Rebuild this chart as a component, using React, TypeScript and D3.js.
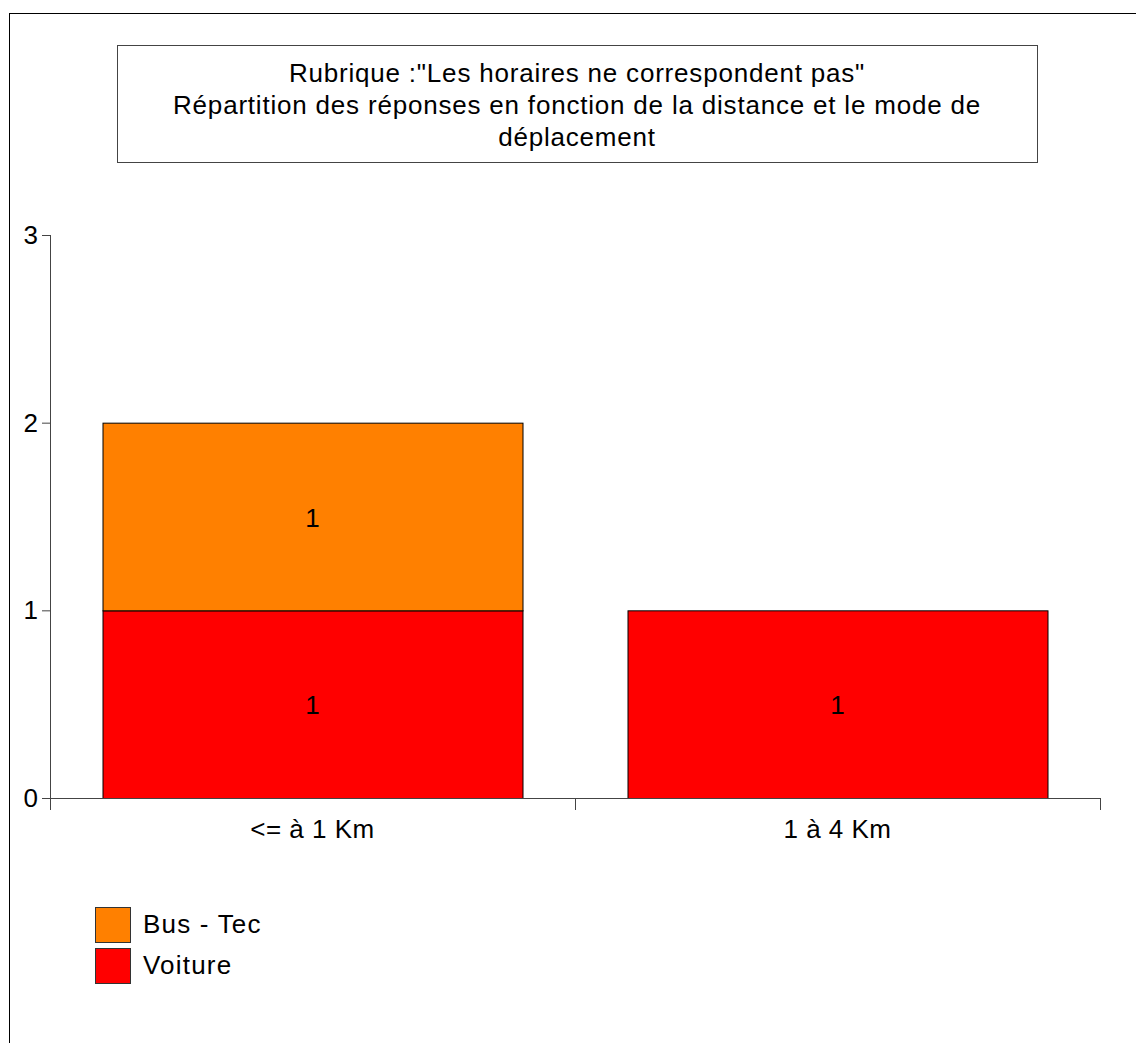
import React from "react";
import * as d3 from "d3";

const categories = ["<= à 1 Km", "1 à 4 Km"];
const seriesNames = ["Voiture", "Bus - Tec"];
const voiture = [1, 1];
const busTec = [1, 0];
const colors = ["#ff0000", "#ff8000"];
const yTicks = [0, 1, 2, 3];
const titleLines = [
  'Rubrique :"Les horaires ne correspondent pas"',
  "Répartition des réponses en fonction de la distance et le mode de",
  "déplacement",
];

export default function App() {
  const W = 1136, H = 1043;
  const x0 = 50, x1 = 1100, yBase = 798, yTop = 235;
  const x = d3.scaleBand<string>().domain(categories).range([x0, x1]).paddingInner(0.2).paddingOuter(0.1);
  const xb = d3.scaleBand<string>().domain(categories).range([x0, x1]);
  const y = d3.scaleLinear().domain([0, 3]).range([yBase, yTop]);
  const rows = categories.map((c, i) => ({ cat: c, Voiture: voiture[i], "Bus - Tec": busTec[i] }));
  const stacked = d3.stack<any>().keys(seriesNames)(rows);
  const font = "Liberation Sans, Arial, sans-serif";
  const legendItems = [
    { name: "Bus - Tec", color: colors[1] },
    { name: "Voiture", color: colors[0] },
  ];
  return (
    <svg width={W} height={H} style={{ position: "absolute", left: 0, top: 0, background: "#fff" }} fontFamily={font}>
      <rect x={9.5} y={13.5} width={W + 10} height={H + 10} fill="none" stroke="#000" strokeWidth={1} />
      <rect x={117.5} y={45.5} width={920} height={117} fill="#fff" stroke="#444" strokeWidth={1} />
      {titleLines.map((t, i) => (
        <text key={i} x={577} y={82 + i * 32} textAnchor="middle" fontSize={26} letterSpacing={0.8} fill="#000">{t}</text>
      ))}
      {stacked.map((s, si) =>
        s.map((d, i) =>
          d[1] - d[0] > 0 ? (
            <g key={`${si}-${i}`}>
              <rect x={x(categories[i])! + 0.5} y={y(d[1]) + 0.5} width={x.bandwidth()} height={y(d[0]) - y(d[1])}
                fill={colors[si]} stroke="#000" strokeWidth={1} />
              <text x={x(categories[i])! + x.bandwidth() / 2} y={(y(d[0]) + y(d[1])) / 2 + 10} textAnchor="middle" fontSize={26} fill="#000">
                {d[1] - d[0]}
              </text>
            </g>
          ) : null
        )
      )}
      <line x1={x0 + 0.5} x2={x0 + 0.5} y1={yTop} y2={yBase + 12} stroke="#444" />
      <line x1={x0} x2={x1} y1={yBase + 0.5} y2={yBase + 0.5} stroke="#444" />
      {yTicks.map((t) => (
        <g key={t}>
          <line x1={x0 - 8} x2={x0} y1={y(t) + 0.5} y2={y(t) + 0.5} stroke="#444" />
          <text x={x0 - 12} y={y(t) + 9} textAnchor="end" fontSize={26} fill="#000">{t}</text>
        </g>
      ))}
      {categories.map((c) => (
        <g key={c}>
          <line x1={xb(c)! + xb.bandwidth() + 0.5} x2={xb(c)! + xb.bandwidth() + 0.5} y1={yBase} y2={yBase + 12} stroke="#444" />
          <text x={xb(c)! + xb.bandwidth() / 2} y={838} textAnchor="middle" fontSize={26} letterSpacing={0.5} fill="#000">{c}</text>
        </g>
      ))}
      {legendItems.map((l, i) => (
        <g key={l.name}>
          <rect x={95.5} y={907.5 + i * 41} width={35} height={35} fill={l.color} stroke="#333" />
          <text x={143} y={933 + i * 41} fontSize={26} letterSpacing={1.2} fill="#000">{l.name}</text>
        </g>
      ))}
    </svg>
  );
}
